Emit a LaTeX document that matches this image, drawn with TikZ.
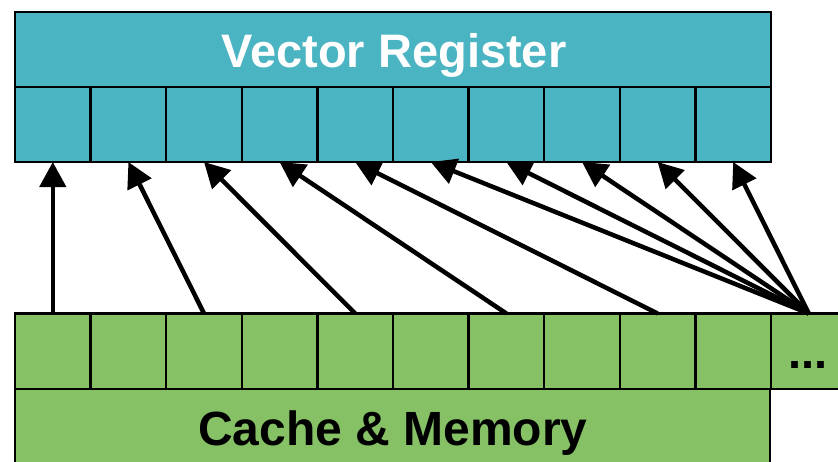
\documentclass[tikz,border=0pt]{standalone}
\usepackage{fontspec}
\setmainfont{Liberation Sans}
\usetikzlibrary{arrows.meta}
\definecolor{regteal}{RGB}{75,180,194}
\definecolor{memgreen}{RGB}{134,193,102}
\begin{document}
\begin{tikzpicture}[x=1pt,y=-1pt,
  cell/.style={draw=black, line width=2.5pt, minimum width=75.6pt, minimum height=75pt, inner sep=0pt, outer sep=0pt},
  regcell/.style={cell, fill=regteal},
  memcell/.style={cell, fill=memgreen},
  banner/.style={font=\fontsize{47}{50}\selectfont\bfseries, inner sep=0pt},
  load/.style={line width=4.5pt, -{Triangle[length=25pt,width=26pt]}}]
\clip (0,0) rectangle (838,461);
% vector register: title row and ten lanes
\node[regcell, minimum width=756pt] (reg) at (393,49.5) {};
\foreach \i in {0,...,9}
  \node[regcell] (r\i) at ({52.8+75.6*\i},124.5) {};
\node[banner, text=white, anchor=base] (regtitle) at (394,67.5) {Vector Register};
% cache & memory: eleven words shown, the last one continuing
\node[memcell, minimum width=755pt, minimum height=84pt] (mem) at (392.5,431) {};
\foreach \i in {0,...,10}
  \node[memcell, minimum height=75.5pt] (m\i) at ({52.8+75.6*\i},351.25) {};
\node[banner, text=black, anchor=base, font=\fontsize{48}{50}\selectfont\bfseries] (memtitle) at (393,445) {Cache \& Memory};
\node[banner, text=black, anchor=base] (dots) at (808,368) {...};
% strided loads into the register lanes
\foreach \k [evaluate=\k as \s using int(2*\k)] in {0,...,4}
  \draw[load] (m\s.north) -- (r\k.south);
\foreach \k in {5,...,9}
  \draw[load] (m10.north) -- (r\k.south);
\end{tikzpicture}
\end{document}
